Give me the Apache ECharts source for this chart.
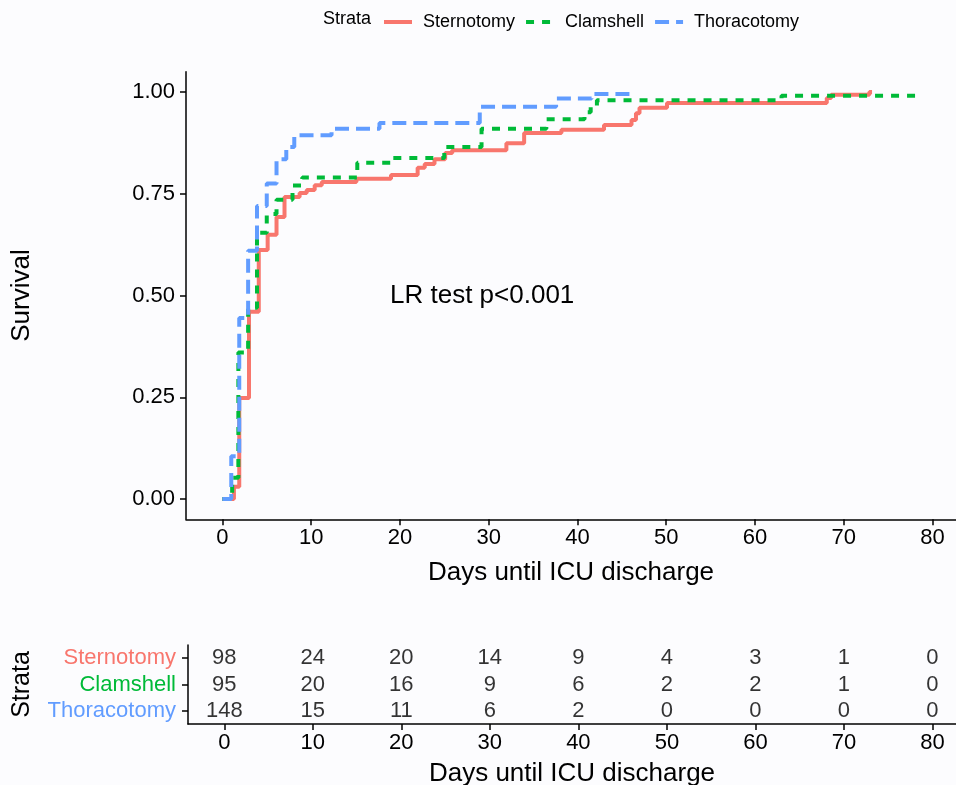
<!DOCTYPE html>
<html>
<head>
<meta charset="utf-8">
<script src="https://cdn.jsdelivr.net/npm/echarts@6/dist/echarts.min.js"></script>
<style>
  html, body { margin: 0; padding: 0; background: #fcfcfe; }
  #chart { width: 956px; height: 785px; }
</style>
</head>
<body>
<div id="chart"></div>
<script>
// step points: time (days) and cumulative proportion discharged
const sternoTime = [0, 1.3, 1.9, 3.0, 4.1, 5.1, 6.1, 7.0, 8.7, 9.5, 10.4, 11.2, 15.1, 19.0, 22.0, 22.8, 23.9, 25.1, 25.9, 32.0, 34.0, 38.2, 43.0, 46.1, 46.6, 47.0, 50.1, 68.1, 68.6, 72.9, 73.2];
const sternoSurv = [0, 0.03, 0.248, 0.46, 0.612, 0.649, 0.693, 0.742, 0.752, 0.759, 0.771, 0.779, 0.787, 0.796, 0.814, 0.823, 0.835, 0.85, 0.857, 0.874, 0.899, 0.907, 0.919, 0.931, 0.948, 0.961, 0.973, 0.985, 0.993, 1.0, 1.0];

const clamTime = [0, 1.1, 1.8, 2.9, 3.9, 5.0, 6.1, 7.9, 9.0, 15.2, 19.0, 25.0, 29.2, 36.5, 40.8, 41.5, 42.2, 63.0, 78.9];
const clamSurv = [0, 0.052, 0.36, 0.47, 0.654, 0.70, 0.735, 0.77, 0.79, 0.826, 0.838, 0.865, 0.91, 0.933, 0.95, 0.963, 0.98, 0.991, 0.991];

const thoraTime = [0, 1.0, 1.9, 2.9, 3.9, 5.0, 6.1, 7.2, 8.1, 12.3, 17.7, 29.0, 37.6, 41.6, 46.2];
const thoraSurv = [0, 0.105, 0.445, 0.61, 0.72, 0.775, 0.835, 0.865, 0.894, 0.91, 0.924, 0.964, 0.984, 0.995, 0.995];

// number at risk table
const strata = ['Sternotomy', 'Clamshell', 'Thoracotomy'];
const riskTimes = [0, 10, 20, 30, 40, 50, 60, 70, 80];
const riskSterno = [98, 24, 20, 14, 9, 4, 3, 1, 0];
const riskClam = [95, 20, 16, 9, 6, 2, 2, 1, 0];
const riskThora = [148, 15, 11, 6, 2, 0, 0, 0, 0];

const xTicks = [0, 10, 20, 30, 40, 50, 60, 70, 80];
const yTicks = [0, 0.25, 0.5, 0.75, 1];

const colors = ['#F8766D', '#00BA38', '#619CFF'];
const font = 'Liberation Sans, Arial, sans-serif';

let chart = echarts.init(document.getElementById('chart'));

function pairs(ts, vs) {
  return ts.map((t, i) => [t, vs[i]]);
}

const riskData = [];
[riskSterno, riskClam, riskThora].forEach((row, r) => {
  row.forEach((n, i) => riskData.push([riskTimes[i], strata[r], n]));
});

const lineBlack = { color: '#000', width: 1.5 };
const axisLineBlack = { show: true, onZero: false, lineStyle: lineBlack };

function valueTicks(vals) {
  return { show: true, length: 6, lineStyle: lineBlack, customValues: vals };
}

chart.setOption({
  backgroundColor: '#fcfcfe',
  animation: false,
  textStyle: { fontFamily: font },
  legend: {
    data: strata,
    left: 377,
    top: 8,
    itemWidth: 28,
    itemHeight: 14,
    itemGap: 9,
    itemStyle: { opacity: 0 },
    lineStyle: { width: 4 },
    textStyle: { fontSize: 18, color: '#000', padding: [0, 0, 0, 6] }
  },
  graphic: [
    { type: 'text', left: 323, top: 10, style: { text: 'Strata', fontSize: 18, fill: '#000', fontFamily: font } },
    { type: 'text', left: 390, top: 283, style: { text: 'LR test p<0.001', fontSize: 26, fill: '#000', fontFamily: font } }
  ],
  grid: [
    { left: 186, right: 0, top: 71.65, bottom: 265.65, outerBoundsMode: 'none' },
    { left: 188, right: 0, top: 645, bottom: 61, outerBoundsMode: 'none' }
  ],
  xAxis: [
    {
      type: 'value', gridIndex: 0, min: -4.1, max: 82.66,
      name: 'Days until ICU discharge', nameLocation: 'middle', nameGap: 40,
      nameTextStyle: { color: '#000', fontSize: 26 },
      axisLine: axisLineBlack,
      axisTick: valueTicks(xTicks),
      axisLabel: { customValues: xTicks, color: '#000', fontSize: 22, margin: 8 },
      splitLine: { show: false }
    },
    {
      type: 'value', gridIndex: 1, min: -4.1, max: 82.66,
      name: 'Days until ICU discharge', nameLocation: 'middle', nameGap: 37,
      nameTextStyle: { color: '#000', fontSize: 26 },
      axisLine: axisLineBlack,
      axisTick: valueTicks(xTicks),
      axisLabel: { customValues: xTicks, color: '#000', fontSize: 22, margin: 8 },
      splitLine: { show: false }
    }
  ],
  yAxis: [
    {
      type: 'value', gridIndex: 0, min: -0.05, max: 1.05,
      name: 'Survival', nameLocation: 'middle', nameGap: 151,
      nameTextStyle: { color: '#000', fontSize: 26 },
      axisLine: axisLineBlack,
      axisTick: valueTicks(yTicks),
      axisLabel: { customValues: yTicks, color: '#000', fontSize: 22, margin: 11, formatter: v => v.toFixed(2) },
      splitLine: { show: false }
    },
    {
      type: 'category', gridIndex: 1, data: strata, inverse: true,
      name: 'Strata', nameLocation: 'middle', nameGap: 153,
      nameTextStyle: { color: '#000', fontSize: 25 },
      axisLine: axisLineBlack,
      axisTick: { show: true, length: 6, alignWithLabel: true, lineStyle: lineBlack },
      axisLabel: {
        interval: 0, margin: 12, fontSize: 22,
        formatter: v => '{s' + strata.indexOf(v) + '|' + v + '}',
        rich: {
          s0: { color: colors[0], fontSize: 22 },
          s1: { color: colors[1], fontSize: 22 },
          s2: { color: colors[2], fontSize: 22 }
        }
      },
      splitLine: { show: false }
    }
  ],
  series: [
    {
      name: 'Sternotomy', type: 'line', step: 'end', symbol: 'none',
      xAxisIndex: 0, yAxisIndex: 0,
      data: pairs(sternoTime, sternoSurv),
      lineStyle: { color: colors[0], width: 4 },
      itemStyle: { color: colors[0] }
    },
    {
      name: 'Clamshell', type: 'line', step: 'end', symbol: 'none',
      xAxisIndex: 0, yAxisIndex: 0,
      data: pairs(clamTime, clamSurv),
      lineStyle: { color: colors[1], width: 4, type: [8, 8] },
      itemStyle: { color: colors[1] }
    },
    {
      name: 'Thoracotomy', type: 'line', step: 'end', symbol: 'none',
      xAxisIndex: 0, yAxisIndex: 0,
      data: pairs(thoraTime, thoraSurv),
      lineStyle: { color: colors[2], width: 4, type: [14, 7] },
      itemStyle: { color: colors[2] }
    },
    {
      name: 'risk', type: 'scatter', xAxisIndex: 1, yAxisIndex: 1,
      symbolSize: 1,
      itemStyle: { color: 'rgba(0,0,0,0)' },
      data: riskData,
      label: {
        show: true, position: 'inside', color: '#000', fontSize: 22,
        formatter: p => String(p.value[2])
      }
    }
  ]
});
</script>
</body>
</html>
